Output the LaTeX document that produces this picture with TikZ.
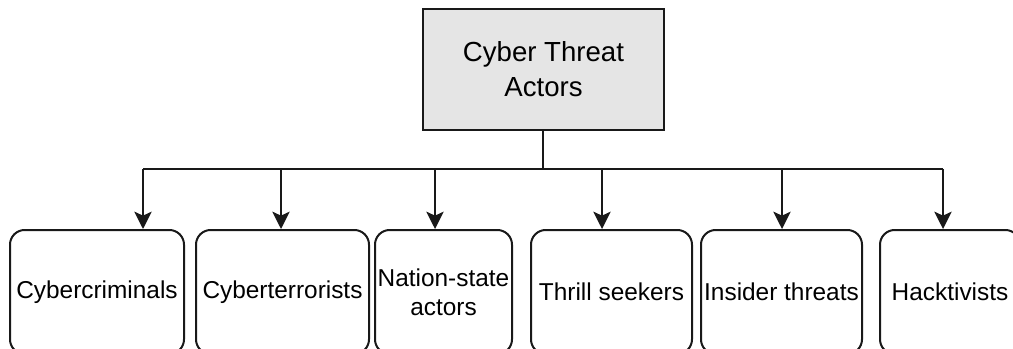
\documentclass[tikz,border=0pt]{standalone}
\usepackage{fontspec}
\setmainfont{Liberation Sans}
\usetikzlibrary{arrows.meta}
\begin{document}
\begin{tikzpicture}[x=0.75pt,y=-0.75pt,
  conn/.style={line width=1.5pt, draw=black!90},
  arr/.style={conn, -{Stealth[length=13pt,width=13pt,inset=3pt]}},
  leaf/.style={draw=black!90, line width=1.5pt, rounded corners=11pt, fill=white,
    inner sep=0pt, minimum height=93pt, align=center,
    font=\fontsize{18.3}{21.75}\selectfont},
  root/.style={draw=black!90, line width=1.5pt, fill=black!10, inner sep=0pt,
    minimum width=180.75pt, minimum height=90.75pt, align=center,
    font=\fontsize{20.7}{26.25}\selectfont}]
\clip (0,0) rectangle (1013,349);
\node[root] (top) at (543.5,69.5) {Cyber Threat\\Actors};
\node[leaf, minimum width=130.5pt] (b1) at (97,292) {Cybercriminals};
\node[leaf, minimum width=129.75pt] (b2) at (282.5,292) {Cyberterrorists};
\node[leaf, minimum width=102.75pt] (b3) at (443.5,292) {Nation-state\\actors};
\node[leaf, minimum width=120.75pt] (b4) at (611.5,292) {Thrill seekers};
\node[leaf, minimum width=120.75pt] (b5) at (781.5,292) {Insider threats};
\node[leaf, minimum width=105pt] (b6) at (950,292) {Hacktivists};
\coordinate (j) at (543,169);
\coordinate (a1) at (143,169);
\coordinate (a2) at (281,169);
\coordinate (a3) at (435,169);
\coordinate (a4) at (602,169);
\coordinate (a5) at (782,169);
\coordinate (a6) at (943,169);
\draw[conn] (top.south -| j) -- (j);
\draw[conn] (a1) -- (a6);
\draw[arr] (a1) -- (a1 |- b1.north);
\draw[arr] (a2) -- (a2 |- b2.north);
\draw[arr] (a3) -- (a3 |- b3.north);
\draw[arr] (a4) -- (a4 |- b4.north);
\draw[arr] (a5) -- (a5 |- b5.north);
\draw[arr] (a6) -- (a6 |- b6.north);
\end{tikzpicture}
\end{document}
